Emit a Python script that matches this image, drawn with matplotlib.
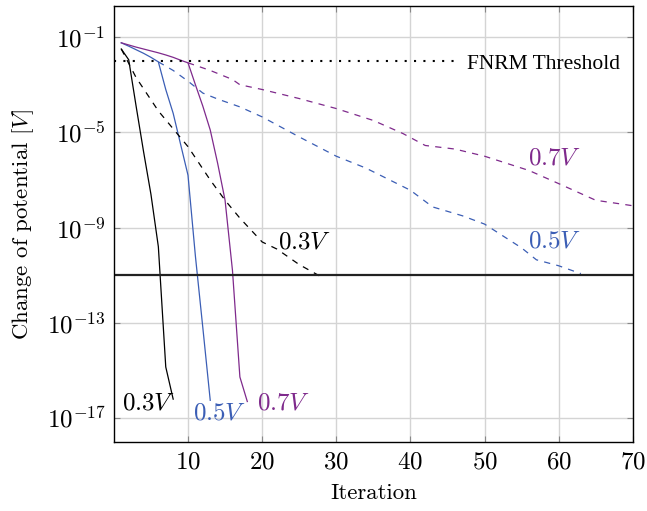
import numpy as np
import matplotlib
matplotlib.use("Agg")
import matplotlib.pyplot as plt

plt.rcParams["font.family"] = ["cmr10"]
plt.rcParams["mathtext.fontset"] = "cm"
plt.rcParams["axes.formatter.use_mathtext"] = True
plt.rcParams["axes.unicode_minus"] = False

PURPLE = "#7f2a8c"
BLUE = "#3b5eb5"

# log10 of change of potential
it_03 = [1, 2, 3, 4, 5, 6, 7, 8]
lg_03 = [-1.5, -1.95, -3.9, -5.8, -7.6, -9.8, -14.85, -16.2]

it_05 = [1, 2, 3, 4, 5, 6, 7, 8, 9, 10, 11, 12, 13]
lg_05 = [-1.24, -1.38, -1.53, -1.68, -1.85, -2.04, -3.2, -4.2, -5.5, -6.8, -10.2, -13.2, -16.25]

it_07 = [1, 2, 3, 4, 5, 6, 7, 8, 9, 10, 11, 12, 13, 14, 15, 16, 17, 18]
lg_07 = [-1.24, -1.33, -1.42, -1.5, -1.58, -1.66, -1.75, -1.85, -1.97, -2.08,
         -3.0, -3.9, -4.9, -6.3, -7.85, -10.8, -15.27, -16.3]

it_03d = [1, 3, 6, 10, 13, 15, 17, 20, 22, 25, 28]
lg_03d = [-1.5, -2.7, -4.1, -5.6, -7.0, -7.85, -8.6, -9.6, -9.9, -10.55, -11.07]

it_05d = [6, 8, 10, 12, 14, 17, 20, 25, 30, 34, 40, 43, 47, 50, 55, 57, 60, 63]
lg_05d = [-2.04, -2.4, -2.85, -3.35, -3.6, -3.93, -4.35, -5.19, -6.0, -6.5,
          -7.43, -8.13, -8.5, -8.85, -9.85, -10.35, -10.6, -10.93]

it_07d = [10, 13, 16, 17, 20, 25, 30, 35, 39, 42, 46, 50, 56, 60, 65, 70]
lg_07d = [-2.08, -2.4, -2.78, -3.0, -3.2, -3.58, -4.0, -4.5, -5.05, -5.55,
          -5.7, -6.0, -6.6, -7.15, -7.85, -8.08]

fnrm_threshold = 1e-2
tolerance = 1e-11


def pw(v):
    return 10.0 ** np.array(v)


fig = plt.figure(figsize=(6.47, 5.11), dpi=100)
ax = fig.add_axes([0.176, 0.135, 0.802, 0.853])

ax.semilogy(it_03, pw(lg_03), color="black", lw=0.9)
ax.semilogy(it_05, pw(lg_05), color=BLUE, lw=0.9)
ax.semilogy(it_07, pw(lg_07), color=PURPLE, lw=0.9)
ax.semilogy(it_03d, pw(lg_03d), color="black", lw=0.9, ls=(0, (5, 5)))
ax.semilogy(it_05d, pw(lg_05d), color=BLUE, lw=0.9, ls=(0, (5, 5)))
ax.semilogy(it_07d, pw(lg_07d), color=PURPLE, lw=0.9, ls=(0, (5, 5)))

ax.plot([0, 46.5], [fnrm_threshold, fnrm_threshold], color="black", lw=1.5, ls=(0, (1, 3.5)))
ax.axhline(tolerance, color="#222222", lw=1.6)

ax.text(47.6, 10 ** -2.13, "FNRM Threshold", family="Liberation Serif", fontsize=15.5, va="center")
lab = dict(fontsize=18, va="center")
ax.text(22.1, 10 ** -9.6, r"$0.3V$", color="black", **lab)
ax.text(55.8, 10 ** -6.08, r"$0.7V$", color=PURPLE, **lab)
ax.text(55.8, 10 ** -9.57, r"$0.5V$", color=BLUE, **lab)
ax.text(1.1, 10 ** -16.4, r"$0.3V$", color="black", **lab)
ax.text(10.7, 10 ** -16.8, r"$0.5V$", color=BLUE, **lab)
ax.text(19.3, 10 ** -16.4, r"$0.7V$", color=PURPLE, **lab)

ax.set_xlim(0, 70)
ax.set_ylim(1e-18, 10 ** 0.3)
ax.set_xticks([10, 20, 30, 40, 50, 60, 70])
ax.set_yticks([1e-1, 1e-5, 1e-9, 1e-13, 1e-17])
ax.yaxis.set_minor_locator(matplotlib.ticker.NullLocator())
ax.tick_params(direction="in", top=True, right=True, labelsize=18, color="#888888", length=4)
ax.tick_params(axis="y", pad=6)
ax.tick_params(axis="x", pad=7)
ax.grid(True, color="#d4d4d4", lw=1.0)

for s in ax.spines.values():
    s.set_linewidth(1.0)

ax.set_xlabel("Iteration", fontsize=16.5, labelpad=7)
ax.set_ylabel(r"Change of potential [$V$]", fontsize=16.5, labelpad=8)

fig.savefig("out.png", dpi=100)
